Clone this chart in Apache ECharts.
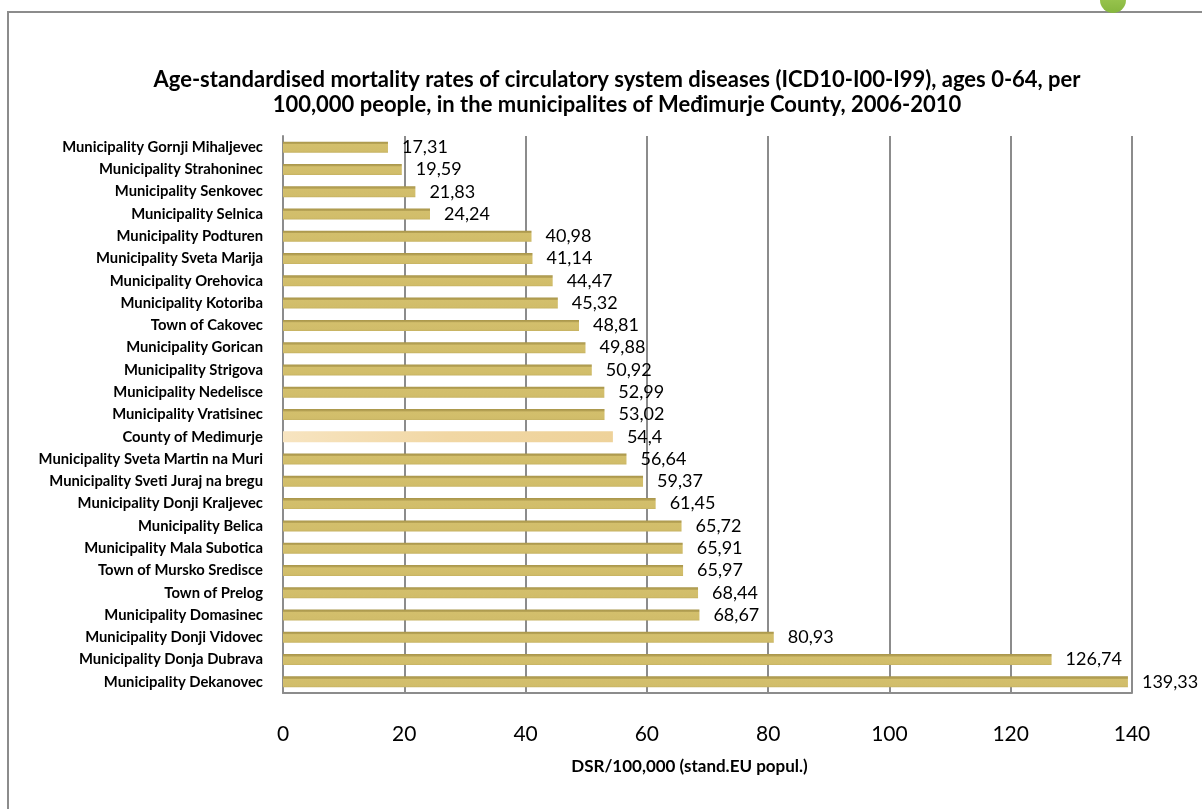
<!DOCTYPE html>
<html>
<head>
<meta charset="utf-8">
<script src="https://cdn.jsdelivr.net/npm/echarts@6/dist/echarts.min.js"></script>
<style>
  html, body { margin: 0; padding: 0; background: #fff; }
  #chart { width: 1202px; height: 809px; }
</style>
</head>
<body>
<div id="chart"></div>
<script>
// Municipalities, listed top to bottom
const categories = [
  'Municipality Gornji Mihaljevec',
  'Municipality Strahoninec',
  'Municipality Senkovec',
  'Municipality Selnica',
  'Municipality Podturen',
  'Municipality Sveta Marija',
  'Municipality Orehovica',
  'Municipality Kotoriba',
  'Town of Cakovec',
  'Municipality Gorican',
  'Municipality Strigova',
  'Municipality Nedelisce',
  'Municipality Vratisinec',
  'County of Medimurje',
  'Municipality Sveta Martin na Muri',
  'Municipality Sveti Juraj na bregu',
  'Municipality Donji Kraljevec',
  'Municipality Belica',
  'Municipality Mala Subotica',
  'Town of Mursko Sredisce',
  'Town of Prelog',
  'Municipality Domasinec',
  'Municipality Donji Vidovec',
  'Municipality Donja Dubrava',
  'Municipality Dekanovec'
];

// DSR per 100,000 (standard EU population), ages 0-64
const dsrValues = [
  17.31, 19.59, 21.83, 24.24, 40.98, 41.14, 44.47, 45.32, 48.81, 49.88,
  50.92, 52.99, 53.02, 54.4, 56.64, 59.37, 61.45, 65.72, 65.91, 65.97,
  68.44, 68.67, 80.93, 126.74, 139.33
];

// The county-wide figure is drawn in a lighter tone
const countyName = 'County of Medimurje';

const xTicks = { min: 0, max: 140, interval: 20 };

const goldFill = new echarts.graphic.LinearGradient(0, 0, 0, 1, [
  { offset: 0, color: '#a8954a' },
  { offset: 0.2, color: '#b9a557' },
  { offset: 0.25, color: '#d3bf6c' },
  { offset: 0.85, color: '#d1bd6a' },
  { offset: 1, color: '#c6b262' }
]);
const countyFill = new echarts.graphic.LinearGradient(0, 0, 1, 0, [
  { offset: 0, color: '#f7e4c0' },
  { offset: 0.5, color: '#f1d7a4' },
  { offset: 1, color: '#eed29a' }
]);

const seriesData = dsrValues.map((v, i) => ({
  value: v,
  itemStyle: { color: categories[i] === countyName ? countyFill : goldFill }
}));

const chart = echarts.init(document.getElementById('chart'), null, { renderer: 'canvas' });

chart.setOption({
  animation: false,
  backgroundColor: '#ffffff',
  title: {
    text: 'Age-standardised mortality rates of circulatory system diseases (ICD10-I00-I99), ages 0-64, per\n100,000 people, in the municipalites of Međimurje County, 2006-2010',
    left: 612,
    textAlign: 'center',
    top: 62,
    textStyle: {
      fontFamily: 'Lato',
      fontWeight: 'bold',
      fontSize: 22,
      color: '#000',
      lineHeight: 25
    }
  },
  graphic: [
    {
      type: 'polyline',
      shape: { points: [[8, 809], [8, 12], [1202, 12]] },
      style: { stroke: '#8c8c8c', lineWidth: 2, fill: null },
      z: 1
    },
    {
      type: 'circle',
      shape: { cx: 1113, cy: 0, r: 13 },
      style: {
        fill: new echarts.graphic.LinearGradient(0, 0, 0, 1, [
          { offset: 0, color: '#a6cf5a' },
          { offset: 1, color: '#86b63e' }
        ])
      },
      z: 2
    }
  ],
  grid: {
    left: 283,
    right: 70,
    top: 136,
    bottom: 116,
    containLabel: false
  },
  xAxis: {
    type: 'value',
    min: xTicks.min,
    max: xTicks.max,
    interval: xTicks.interval,
    name: 'DSR/100,000 (stand.EU popul.)',
    nameLocation: 'middle',
    nameGap: 65,
    nameTextStyle: {
      fontFamily: 'Lato',
      fontWeight: 'bold',
      fontSize: 17,
      color: '#000',
      padding: [0, 36, 0, 0]
    },
    axisLine: { show: true, lineStyle: { color: '#8c8c8c', width: 2 } },
    axisTick: { show: false },
    axisLabel: {
      fontFamily: 'Lato',
      fontSize: 21,
      color: '#000',
      margin: 31
    },
    splitLine: { show: true, lineStyle: { color: '#8c8c8c', width: 2 } }
  },
  yAxis: {
    type: 'category',
    data: categories,
    inverse: true,
    axisLine: { show: true, lineStyle: { color: '#8c8c8c', width: 2 } },
    axisTick: { show: false },
    axisLabel: {
      fontFamily: 'Lato',
      fontWeight: 'bold',
      fontSize: 14.8,
      color: '#000',
      margin: 20
    }
  },
  series: [
    {
      type: 'bar',
      data: seriesData,
      barWidth: 11,
      label: {
        show: true,
        position: 'right',
        distance: 14,
        fontFamily: 'Lato',
        fontSize: 18,
        color: '#000',
        formatter: p => String(p.value).replace('.', ',')
      }
    }
  ]
});
</script>
</body>
</html>
